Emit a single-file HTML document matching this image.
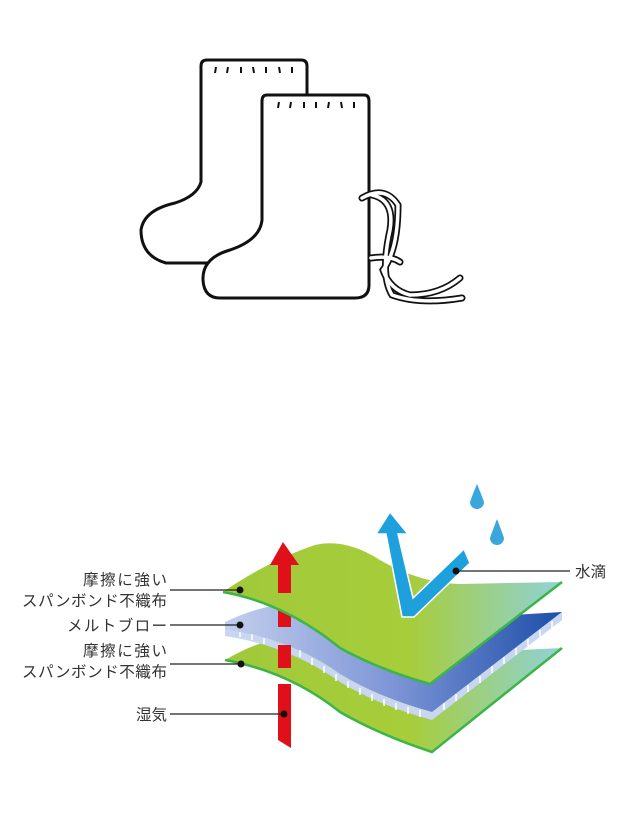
<!DOCTYPE html>
<html><head><meta charset="utf-8"><style>
html,body{margin:0;padding:0;background:#fff;width:640px;height:818px;overflow:hidden}
svg{display:block}
text{font-family:"Liberation Sans","Noto Sans CJK JP",sans-serif;font-size:15.5px;fill:#333}
</style></head><body>
<svg width="640" height="818" viewBox="0 0 640 818" xmlns="http://www.w3.org/2000/svg">
<defs>
<linearGradient id="gr" x1="0" y1="0" x2="1" y2="0">
<stop offset="0" stop-color="#a0c93a"/><stop offset="0.55" stop-color="#a7cd3a"/><stop offset="1" stop-color="#8fd2d8"/>
</linearGradient>
<linearGradient id="bl" x1="0" y1="0" x2="1" y2="0">
<stop offset="0" stop-color="#c3cfee"/><stop offset="0.5" stop-color="#7d95d6"/><stop offset="1" stop-color="#1d4fa8"/>
</linearGradient>
</defs>
<!-- boots -->
<g fill="#fff" stroke="#111" stroke-width="3" stroke-linejoin="round">
<path d="M201,66 Q201,60 207,60 H301 Q307,60 307,66 V263 H166 Q141,256 141,230 Q144,210 175,203 Q197,196 201,182 Z"/>
<path d="M267,95 H364 Q369,95 369,101 V285 Q369,298 355,298 H220 Q204,298 203,280 Q202,258 230,250 Q260,240 262,220 V101 Q262,95 267,95 Z"/>
</g>
<g stroke="#111" stroke-width="2">
<path d="M216,67 l-1,6 M228,67 l-1,6 M241,67 v6 M253,67 l1,6 M266,67 v6 M279,67 l1,6 M292,67 v6"/>
<path d="M279,102 l-1,6 M291,102 l-1,6 M304,102 v6 M316,102 v6 M329,102 l-1,6 M341,102 l1,6 M354,102 v6"/>
</g>
<g fill="none" stroke="#111" stroke-width="7" stroke-linecap="round">
<path d="M362,198 Q385,185 398,205 Q398,250 383,270 Q390,290 410,295 Q440,295 460,278"/>
<path d="M372,195 Q395,200 390,230 Q380,275 392,295 Q420,305 462,298"/>
<path d="M371,258 Q390,255 400,262"/>
</g>
<g fill="none" stroke="#fff" stroke-width="3.5" stroke-linecap="round">
<path d="M362,198 Q385,185 398,205 Q398,250 383,270 Q390,290 410,295 Q440,295 460,278"/>
<path d="M372,195 Q395,200 390,230 Q380,275 392,295 Q420,305 462,298"/>
<path d="M371,258 Q390,255 400,262"/>
</g>
<!-- bottom sheet -->
<path d="M225,660 Q280,628 320,640 Q360,650 420,655 L562,648 L432,752 Q380,735 340,712 Q290,672 225,660 Z" fill="url(#gr)"/>
<path d="M225,660 Q290,672 340,712 Q380,735 432,752 L562,648" fill="none" stroke="#3bb54a" stroke-width="2.5"/>
<!-- red lower -->
<path d="M278,684 H291 V748 L278,740 Z" fill="#e0101b"/>
<!-- blue middle sheet -->
<path d="M225,622 Q275,598 320,605 Q370,612 430,620 L562,612 L432,712 Q380,698 340,674 Q290,638 225,630 Z" fill="url(#bl)"/>
<path d="M225,630 Q290,638 340,674 Q380,698 432,712 L562,612 L562,620 L432,720 Q380,706 340,682 Q290,646 225,636 Z" fill="#c9d6f2"/>
<path d="M240,632 v5 M252,634 v6 M264,638 v6 M300,650 v7 M312,658 v7 M324,666 v7 M336,674 v7 M348,681 v7 M360,688 v7 M372,694 v7 M384,699 v7 M396,703 v7 M408,707 v7 M420,710 v7 M444,703 v7 M456,694 v7 M468,685 v7 M480,676 v7 M492,666 v7 M504,657 v7 M516,648 v7 M528,639 v7 M540,630 v7 M552,621 v7" stroke="#fff" stroke-width="1.5"/>
<!-- red mid segment -->
<path d="M278,610 H291 V627 H278 Z M278,645 H291 V668 H278 Z" fill="#e0101b"/>
<!-- top sheet -->
<path d="M223,592 Q270,560 315,545 Q345,538 380,560 Q420,583 460,584 L562,582 L430,684 Q380,670 340,648 Q285,603 223,592 Z" fill="url(#gr)"/>
<path d="M223,592 Q285,603 340,648 Q380,670 430,684 L562,582" fill="none" stroke="#3bb54a" stroke-width="2.5"/>
<!-- red arrow top -->
<path d="M283,542 L299,565 H291 V593 H278 V565 H270 Z" fill="#e0101b"/>
<!-- blue arrow -->
<path d="M390,512 L376,534 L386,534 L402,617 L414,617 L470,563 L464,549 L413,598 L398,534 L408,534 Z" fill="#1ea0dc" stroke="#fff" stroke-width="1.5"/>
<path d="M477,484 Q482,496 484,502 A7,7 0 1 1 470,502 Q472,496 477,484 Z" fill="#3aa7dc"/>
<path d="M497,519 Q502,532 504,538 A7,7 0 1 1 490,538 Q492,532 497,519 Z" fill="#3aa7dc"/>
<!-- leader lines -->
<g stroke="#222" stroke-width="1.2">
<line x1="170" y1="590" x2="240" y2="590"/>
<line x1="170" y1="625" x2="240" y2="625"/>
<line x1="170" y1="664" x2="241" y2="664"/>
<line x1="170" y1="714" x2="284" y2="714"/>
<line x1="455" y1="571" x2="570" y2="571"/>
</g>
<g fill="#111">
<circle cx="240" cy="590" r="3.5"/><circle cx="240" cy="625" r="3.5"/><circle cx="241" cy="664" r="3.5"/><circle cx="284" cy="714" r="3.5"/><circle cx="456" cy="571" r="3.5"/>
</g>
<g text-anchor="end">
<text x="167" y="585" textLength="84">摩擦に強い</text>
<text x="167" y="606" textLength="145">スパンボンド不織布</text>
<text x="167" y="631" textLength="100">メルトブロー</text>
<text x="167" y="656" textLength="84">摩擦に強い</text>
<text x="167" y="677" textLength="145">スパンボンド不織布</text>
<text x="167" y="720">湿気</text>
</g>
<text x="575" y="577">水滴</text>
</svg>
</body></html>
